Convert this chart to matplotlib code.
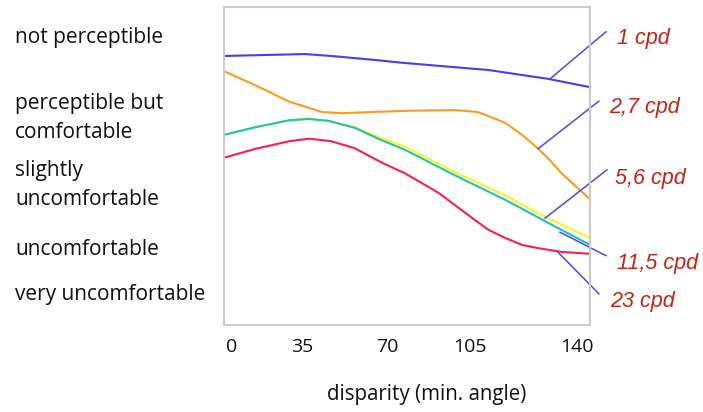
import matplotlib
matplotlib.use("Agg")
import matplotlib.pyplot as plt

# disparity (min. angle) vs. comfort rating (5 = not perceptible ... 1 = very uncomfortable)
disp_1 = [0, 31, 41, 57, 69, 101, 124, 140]
comf_1 = [4.73, 4.76, 4.73, 4.67, 4.62, 4.51, 4.37, 4.24]

disp_27 = [0, 12, 25, 37.5, 45, 57, 72, 88, 97, 107.5, 114, 120, 124.7, 129, 134.3, 140]
comf_27 = [4.49, 4.27, 4.01, 3.85, 3.83, 3.85, 3.87, 3.88, 3.85, 3.68, 3.49, 3.28, 3.09,
           2.89, 2.69, 2.48]

disp_56 = [0, 12, 25, 32.5, 40, 50, 60, 69, 88, 107.5, 123, 140]
comf_56 = [3.49, 3.61, 3.72, 3.74, 3.71, 3.61, 3.44, 3.31, 2.91, 2.54, 2.20, 1.87]

disp_115 = [0, 12, 25, 32.5, 40, 50, 60, 69, 88, 107.5, 127, 140]
comf_115 = [3.49, 3.61, 3.72, 3.74, 3.71, 3.60, 3.41, 3.26, 2.86, 2.47, 2.04, 1.76]

disp_23 = [0, 12, 25, 32.5, 41, 50, 60, 69, 82, 95, 101, 107.5, 114, 120, 129, 140]
comf_23 = [3.13, 3.27, 3.39, 3.43, 3.39, 3.28, 3.06, 2.89, 2.58, 2.18, 2.00, 1.87, 1.76,
           1.71, 1.65, 1.62]

series_labels = ["1 cpd", "2,7 cpd", "5,6 cpd", "11,5 cpd", "23 cpd"]
categories = ["not perceptible", "perceptible but\ncomfortable", "slightly\nuncomfortable",
              "uncomfortable", "very uncomfortable"]
tick_labels = ["0", "35", "70", "105", "140"]

W, H = 703, 412
fig = plt.figure(figsize=(W / 100, H / 100), dpi=100)
ax = fig.add_axes([224 / W, 1 - 325 / H, 366 / W, 318 / H])
ax.set_xlim(0, 140)
ax.set_ylim(0.5, 5.5)

# curves (cyan drawn over yellow like in the original)
ax.plot(disp_1, comf_1, color="#4040f5", lw=1.5)
ax.plot(disp_27, comf_27, color="#ff9a1e", lw=1.5)
ax.plot(disp_56, comf_56, color="#f8f820", lw=1.5)
ax.plot(disp_115, comf_115, color="#20c4b4", lw=1.5)
ax.plot(disp_23, comf_23, color="#ff1e4b", lw=1.5)

# leader lines from curve to label
leaders = [((124.7, 4.37), (146.1, 5.11)),
           ((120.1, 3.27), (143.4, 4.02)),
           ((122.8, 2.18), (146.5, 2.94)),
           ((128.5, 1.96), (146.1, 1.59)),
           ((127.4, 1.66), (143.4, 0.99))]
for (x0, y0), (x1, y1) in leaders:
    ax.plot([x0, x1], [y0, y1], color="#4a4af0", lw=1.1, clip_on=False)

# series labels on the right (pixel positions: left x, baseline y)
label_pos = [(617, 44), (609, 113), (615, 184), (617, 269), (610, 307)]
for txt, (px, py) in zip(series_labels, label_pos):
    fig.text(px / W, 1 - py / H, txt, color="#c42412", fontsize=15.5, style="italic",
             family="Liberation Sans", ha="left", va="baseline")

# category labels on the left (baseline of the last line)
cat_pos = [43, 138, 205, 255, 300]
for txt, py in zip(categories, cat_pos):
    fig.text(15 / W, 1 - py / H, txt, fontsize=15, family="Open Sans", color="#111111",
             ha="left", va="baseline", linespacing=1.5)

ax.set_xticks([3.1, 29.8, 62.3, 94.1, 135])
ax.set_xticklabels(tick_labels, fontsize=14, family="Open Sans", color="#111111")
ax.tick_params(axis="x", length=0, pad=9)
ax.set_yticks([])

fig.text(427 / W, 1 - 400 / H, "disparity (min. angle)", fontsize=14.8, family="Open Sans",
         color="#111111", ha="center", va="baseline")

for sp in ax.spines.values():
    sp.set_color("#cccccc")
    sp.set_linewidth(1.5)

fig.savefig("out.png", dpi=100)
